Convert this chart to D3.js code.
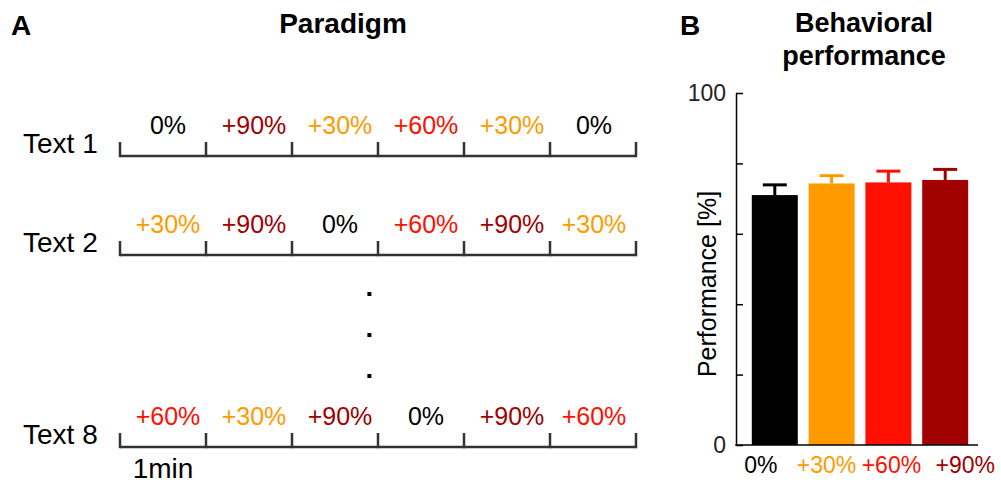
<!DOCTYPE html>
<html><head><meta charset="utf-8">
<script src="https://cdn.jsdelivr.net/npm/d3@7"></script>
<style>
body{margin:0;background:#fff;}
text{font-family:"Liberation Sans",Arial,sans-serif;}
</style></head>
<body>
<svg id="c" width="1001" height="483"></svg>
<script>
// ---- data ----
const rowNames = ["Text 1", "Text 2", "Text 8"];
const row1 = [0, 90, 30, 60, 30, 0];
const row2 = [30, 90, 0, 60, 90, 30];
const row8 = [60, 30, 90, 0, 90, 60];
const minuteTicks = [0, 1, 2, 3, 4, 5, 6];
const conditions = ["0%", "+30%", "+60%", "+90%"];
const condLevels = [0, 30, 60, 90];
const perfMean = [71.0, 74.3, 74.6, 75.3];
const perfErrTop = [73.9, 76.5, 77.8, 78.3];
const yTicks = [0, 20, 40, 60, 80, 100];
const yTickLabels = ["0", "", "", "", "", "100"];

// ---- styles ----
const colorOf = {0: "#000000", 30: "#FF9A00", 60: "#FF1000", 90: "#A00000"};
const fmt = v => v === 0 ? "0%" : "+" + v + "%";

const svg = d3.select("#c");

// ---- Panel A ----
svg.append("text").attr("x", 11).attr("y", 35).attr("font-size", 28).attr("font-weight", "bold").text("A");
svg.append("text").attr("x", 343).attr("y", 33).attr("text-anchor", "middle").attr("font-size", 28).attr("font-weight", "bold").text("Paradigm");

const tx = d3.scaleLinear().domain([0, 6]).range([120, 636]);
const rows = [row1, row2, row8];
const rowY = d3.scaleOrdinal().domain(rowNames).range([156, 255, 447]);

rows.forEach((r, i) => {
  const name = rowNames[i];
  const y = rowY(name);
  const g = svg.append("g");
  g.append("text").attr("x", 23).attr("y", y - 3).attr("font-size", 28).text(name);
  g.append("line").attr("x1", tx(0)).attr("x2", tx(6)).attr("y1", y).attr("y2", y)
    .attr("stroke", "#333").attr("stroke-width", 2.5);
  g.selectAll("line.t").data(minuteTicks).enter().append("line")
    .attr("x1", d => tx(d)).attr("x2", d => tx(d)).attr("y1", y - 14).attr("y2", y + 1.2)
    .attr("stroke", "#333").attr("stroke-width", 2.5);
  g.selectAll("text.l").data(r).enter().append("text")
    .attr("x", (d, j) => tx(j + 0.5) + (j < 5 ? 5 : 1)).attr("y", y - 22)
    .attr("text-anchor", "middle").attr("font-size", 25)
    .attr("fill", d => colorOf[d]).text(d => fmt(d));
});
svg.append("text").attr("x", tx(0.5)).attr("y", 478).attr("text-anchor", "middle").attr("font-size", 28).text("1min");

// ellipsis dots
[294, 335, 376].forEach(yy => {
  svg.append("rect").attr("x", tx(2.9) - 2).attr("y", yy - 2).attr("width", 4).attr("height", 4).attr("fill", "#000");
});

// ---- Panel B ----
svg.append("text").attr("x", 680).attr("y", 35).attr("font-size", 28).attr("font-weight", "bold").text("B");
svg.append("text").attr("x", 864).attr("y", 32).attr("text-anchor", "middle").attr("font-size", 27).attr("font-weight", "bold").text("Behavioral");
svg.append("text").attr("x", 864).attr("y", 65).attr("text-anchor", "middle").attr("font-size", 27).attr("font-weight", "bold").text("performance");

const y = d3.scaleLinear().domain([0, 100]).range([445, 93]);
const x = d3.scaleBand().domain(conditions).range([741, 979]).paddingInner(0.19).paddingOuter(0.19);
const axisX0 = 736, axisX1 = 978;

const bars = conditions.map((c, i) => ({c, lvl: condLevels[i], m: perfMean[i], e: perfErrTop[i]}));

// error bars
const eg = svg.append("g");
eg.selectAll("line.v").data(bars).enter().append("line")
  .attr("x1", d => x(d.c) + x.bandwidth() / 2).attr("x2", d => x(d.c) + x.bandwidth() / 2)
  .attr("y1", d => y(d.m)).attr("y2", d => y(d.e))
  .attr("stroke", d => colorOf[d.lvl]).attr("stroke-width", 3);
eg.selectAll("line.h").data(bars).enter().append("line")
  .attr("x1", d => x(d.c) + x.bandwidth() / 2 - 12).attr("x2", d => x(d.c) + x.bandwidth() / 2 + 12)
  .attr("y1", d => y(d.e)).attr("y2", d => y(d.e))
  .attr("stroke", d => colorOf[d.lvl]).attr("stroke-width", 3);

svg.append("g").selectAll("rect").data(bars).enter().append("rect")
  .attr("x", d => x(d.c)).attr("width", x.bandwidth())
  .attr("y", d => y(d.m)).attr("height", d => y(0) - y(d.m))
  .attr("fill", d => colorOf[d.lvl]);

const yAxis = d3.axisLeft(y).tickValues(yTicks).tickSizeInner(-7).tickSizeOuter(0).tickPadding(10)
  .tickFormat((d, i) => yTickLabels[i]);
const ga = svg.append("g").attr("transform", `translate(${axisX0},0)`).call(yAxis);
ga.selectAll("path,line").attr("stroke", "#000").attr("stroke-width", 1.5);
ga.selectAll("text").attr("font-size", 23).attr("fill", "#222").attr("font-family", "Liberation Sans, Arial, sans-serif");

svg.append("line").attr("x1", axisX0 - 0.75).attr("x2", axisX1).attr("y1", y(0)).attr("y2", y(0))
  .attr("stroke", "#000").attr("stroke-width", 1.5);

// x labels
const labelNudge = [-14, -5, 3, 20];
svg.append("g").selectAll("text").data(bars).enter().append("text")
  .attr("x", (d, i) => x(d.c) + x.bandwidth() / 2 + labelNudge[i]).attr("y", 473)
  .attr("text-anchor", "middle").attr("font-size", 23)
  .attr("fill", d => colorOf[d.lvl]).text(d => d.c);

svg.append("text").attr("transform", "translate(716,284) rotate(-90)")
  .attr("text-anchor", "middle").attr("font-size", 25).text("Performance [%]");
</script>
</body></html>
